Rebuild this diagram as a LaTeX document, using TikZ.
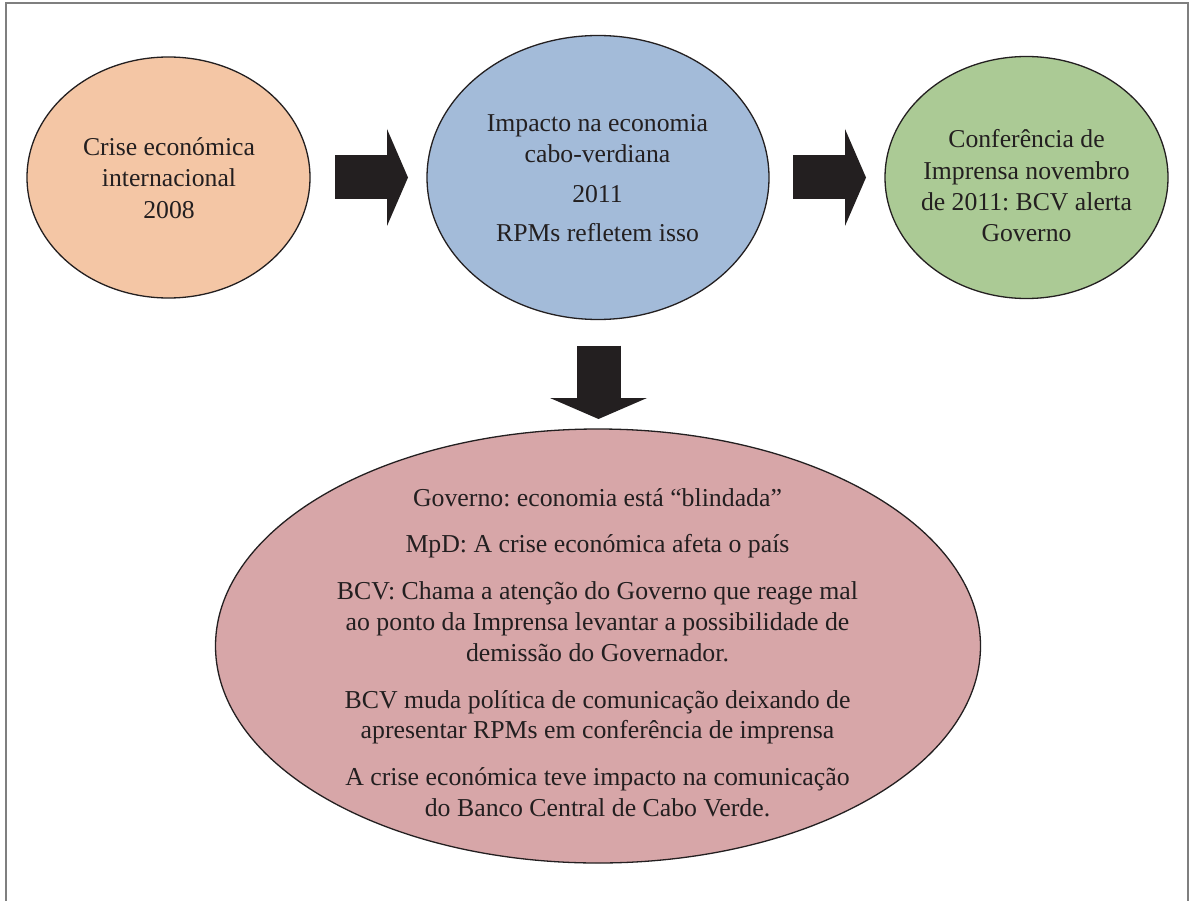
\documentclass[tikz,border=0pt]{standalone}
\usepackage{fontspec}
\setmainfont{Liberation Serif}
\frenchspacing
\usetikzlibrary{shapes.geometric,arrows.meta,calc}
\definecolor{cOrange}{HTML}{F4C6A5}
\definecolor{cBlue}{HTML}{A3BBD9}
\definecolor{cGreen}{HTML}{ABCA95}
\definecolor{cPink}{HTML}{D7A6A8}
\definecolor{cInk}{HTML}{231F20}
\definecolor{cFrame}{HTML}{7F7F7F}
\begin{document}
\begin{tikzpicture}[x=1pt,y=-1pt,
  ell/.style={ellipse, draw=cInk, line width=1.3pt, inner sep=0pt, outer sep=0pt},
  txt/.style={align=center, text=cInk, inner sep=0pt, font=\fontsize{25.7}{31.3}\selectfont},
  ptxt/.style={align=center, text=cInk, inner sep=0pt, font=\fontsize{25.8}{30.8}\selectfont},
  blockarrow/.style={draw=cInk, line width=44pt, -{Triangle[width=97pt,length=21pt,line width=0pt]}}
]
\useasboundingbox (0,0) rectangle (1190,901);
\fill[white] (0,0) rectangle (1190,901);
\draw[cFrame, line width=2pt] (6,901) -- (6,3) -- (1188,3) -- (1188,901);

\node[ell, fill=cOrange, minimum width=283pt, minimum height=241pt] (e1) at (168.5,177.5) {};
\node[ell, fill=cBlue, minimum width=342pt, minimum height=284pt] (e2) at (598,177.5) {};
\node[ell, fill=cGreen, minimum width=283pt, minimum height=242pt] (e3) at (1026.5,177.5) {};
\node[ell, fill=cPink, minimum width=765pt, minimum height=434pt] (e4) at (598,646) {};

\node[txt] (t1) at (169,178) {Crise económica\\internacional\\2008};
\node[txt] (t2) at (597.5,178) {Impacto na economia\\cabo-verdiana\\[8.5pt]2011\\[8pt]RPMs refletem isso};
\node[txt] (t3) at (1026.5,186) {Conferência de\\Imprensa novembro\\de 2011: BCV alerta\\Governo};
\node[ptxt] (t4) at (597.5,652.5) {Governo: economia está “blindada”\\[16pt]
MpD: A crise económica afeta o país\\[16pt]
BCV: Chama a atenção do Governo que reage mal\\ao ponto da Imprensa levantar a possibilidade de\\demissão do Governador.\\[16pt]
BCV muda política de comunicação deixando de\\apresentar RPMs em conferência de imprensa\\[16pt]
A crise económica teve impacto na comunicação\\do Banco Central de Cabo Verde.};

\draw[blockarrow] ($(e1.east)+(25,0)$) -- ($(e2.west)+(-19,0)$);
\draw[blockarrow] ($(e2.east)+(24,0)$) -- ($(e3.west)+(-19,0)$);
\draw[blockarrow] ($(e2.south)+(0.5,26)$) -- ($(e4.north)+(0.5,-10)$);
\end{tikzpicture}
\end{document}
